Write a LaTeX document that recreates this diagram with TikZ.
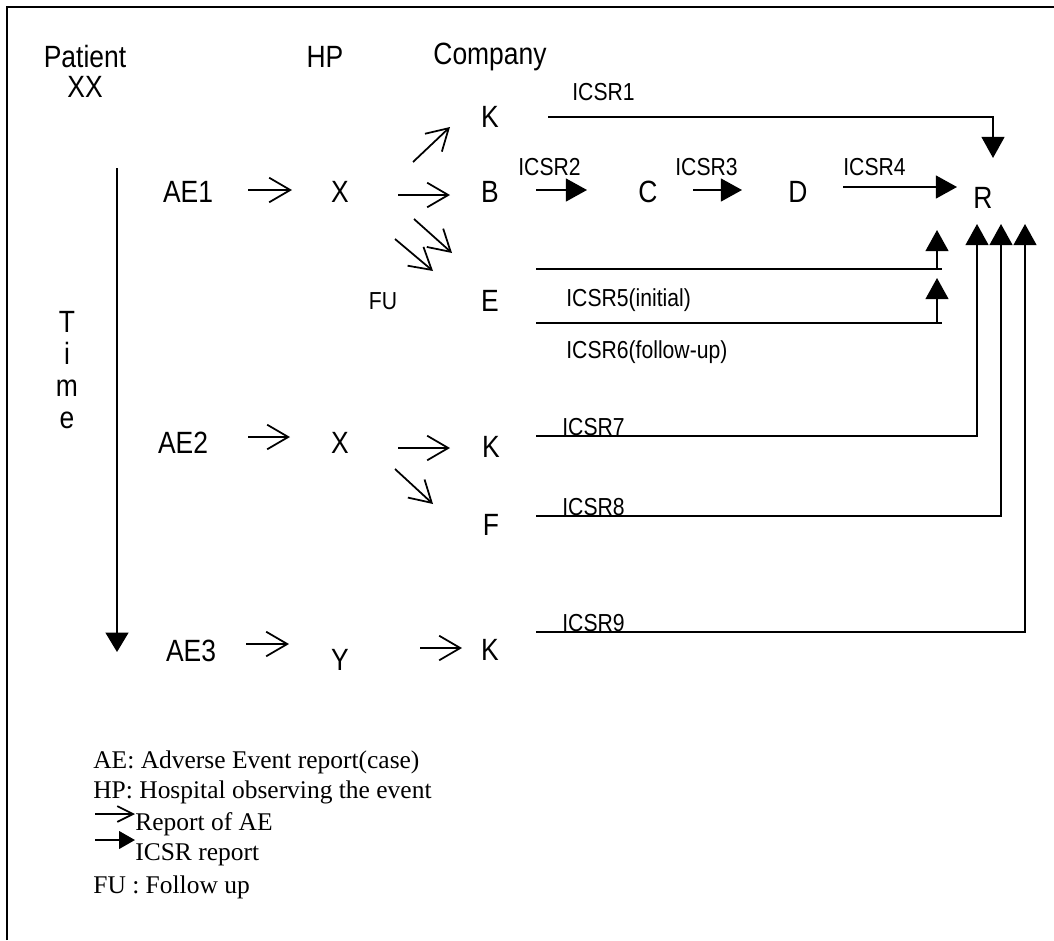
\documentclass[tikz,border=0pt]{standalone}
\usepackage{fontspec}
\setmainfont{Liberation Serif}
\setsansfont{Liberation Sans}
\newfontfamily\narrowsans{Liberation Sans}[FakeStretch=0.86]
\usetikzlibrary{arrows.meta}
\tikzset{
  lbl/.style    = {font=\narrowsans\fontsize{17.5}{18}\selectfont, inner sep=0pt},
  tag/.style    = {font=\narrowsans\fontsize{14}{16}\selectfont, inner sep=0pt, anchor=base west},
  legend/.style = {font=\rmfamily\fontsize{14.5}{16}\selectfont, inner sep=0pt, anchor=base west},
  report/.style = {-{Straight Barb[length=12pt,width=14pt,line width=1pt]}, line width=1pt},
  icsr/.style   = {-{Triangle[length=12pt,width=13pt]}, line width=1pt},
}
\begin{document}
\begin{tikzpicture}[x=0.02cm, y=-0.02cm, line join=miter]
            \useasboundingbox (0,0) rectangle (1054,940);
            \draw[line width=1.2pt] (7,940) -- (7,7) -- (1054,7);
            \node[lbl] (patient) at ( 85, 57) {Patient};
            \node[lbl] (xx)      at ( 85, 87) {XX};
            \node[lbl] (hp)      at (325, 57) {HP};
            \node[lbl] (company) at (490, 57) {Company};
            \node[lbl, align=center, font=\narrowsans\fontsize{17.5}{18.3}\selectfont] (time) at (67,370) {T\\i\\m\\e};
            \node[lbl] (ae1) at (188,192) {AE1};
            \node[lbl] (x1)  at (340,192) {X};
            \node[lbl] (ae2) at (183,443) {AE2};
            \node[lbl] (x2)  at (340,443) {X};
            \node[lbl] (ae3) at (191,651) {AE3};
            \node[lbl] (y)   at (340,660) {Y};
            \node[lbl] (k1)  at (490,117) {K};
            \node[lbl] (b)   at (490,192) {B};
            \node[lbl] (c)   at (648,192) {C};
            \node[lbl] (d)   at (798,192) {D};
            \node[lbl] (r)   at (983,198) {R};
            \node[lbl] (e)   at (490,301) {E};
            \node[lbl] (k2)  at (491,447) {K};
            \node[lbl] (f)   at (491,525) {F};
            \node[lbl] (k3)  at (490,650) {K};
            \node[font=\narrowsans\fontsize{14}{16}\selectfont, inner sep=0pt] (fu) at (383,301) {FU};
            \coordinate (tstart) at (117,168);
            \coordinate (tend)   at (117,652);
            \draw[line width=1pt, -{Triangle[length=11pt,width=13pt]}] (tstart) -- (tend);
            \draw[report] ([shift={(60,-2)}]ae1.center) -- ([shift={(-48,-2)}]x1.center);
            \draw[report] ([shift={(73,-30)}]x1.center) -- ([shift={(-40,10)}]k1.center);
            \draw[report] ([shift={(58,3)}]x1.center)   -- ([shift={(-40,3)}]b.center);
            \draw[report] ([shift={(74,27)}]x1.center)  -- ([shift={(-38,-48)}]e.center);
            \draw[report] ([shift={(55,47)}]x1.center)  -- ([shift={(-57,-30)}]e.center);
            \draw[report] ([shift={(65,-6)}]ae2.center) -- ([shift={(-50,-6)}]x2.center);
            \draw[report] ([shift={(58,5)}]x2.center)   -- ([shift={(-41,1)}]k2.center);
            \draw[report] ([shift={(55,26)}]x2.center)  -- ([shift={(-58,-21)}]f.center);
            \draw[report] ([shift={(55,-7)}]ae3.center) -- ([shift={(-51,-16)}]y.center);
            \draw[report] ([shift={(80,-12)}]y.center)  -- ([shift={(-28,-2)}]k3.center);
            \draw[icsr] ([shift={(58,0)}]k1.center) -| ([shift={(10,-40)}]r.center);
            \draw[icsr] ([shift={(46,-2)}]b.center) -- ([shift={(-61,-2)}]c.center);
            \draw[icsr] ([shift={(45,-2)}]c.center) -- ([shift={(-56,-2)}]d.center);
            \draw[icsr] ([shift={(45,-5)}]d.center) -- ([shift={(-26,-11)}]r.center);
            \draw[line width=1pt] ([shift={(46,-32)}]e.center) -- ([shift={(-41,71)}]r.center);
            \draw[icsr] ([shift={(-46,71)}]r.center) -- ([shift={(-46,32)}]r.center);
            \draw[line width=1pt] ([shift={(46,22)}]e.center) -- ([shift={(-41,125)}]r.center);
            \draw[icsr] ([shift={(-46,125)}]r.center) -- ([shift={(-46,80)}]r.center);
            \draw[icsr] ([shift={(45,-11)}]k2.center) -| ([shift={(-6,26)}]r.center);
            \draw[icsr] ([shift={(45,-9)}]f.center)   -| ([shift={(18,26)}]r.center);
            \draw[icsr] ([shift={(46,-18)}]k3.center) -| ([shift={(42,26)}]r.center);
            \node[tag] (icsr1) at (572,100) {ICSR1};
            \node[tag] (icsr2) at (518,175) {ICSR2};
            \node[tag] (icsr3) at (675,175) {ICSR3};
            \node[tag] (icsr4) at (843,175) {ICSR4};
            \node[tag] (icsr5) at (566,306) {ICSR5(initial)};
            \node[tag] (icsr6) at (566,358) {ICSR6(follow-up)};
            \node[tag] (icsr7) at (562,435) {ICSR7};
            \node[tag] (icsr8) at (562,515) {ICSR8};
            \node[tag] (icsr9) at (562,631) {ICSR9};
            \node[legend] (leg1) at ( 93,768) {AE: Adverse Event report(case)};
            \node[legend] (leg2) at ( 93,798) {HP: Hospital observing the event};
            \node[legend] (leg3) at (135,830) {Report of AE};
            \node[legend] (leg4) at (135,860) {ICSR report};
            \node[legend] (leg5) at ( 93,893) {FU : Follow up};
            \draw[line width=1pt, -{Straight Barb[length=9pt,width=9pt,line width=1pt]}]
                 ([shift={(-40,-16)}]leg3.base west) -- ([shift={(0,-16)}]leg3.base west);
            \draw[line width=1pt, -{Triangle[length=9pt,width=10pt]}]
                 ([shift={(-40,-20)}]leg4.base west) -- ([shift={(0,-20)}]leg4.base west);
\end{tikzpicture}
\end{document}
